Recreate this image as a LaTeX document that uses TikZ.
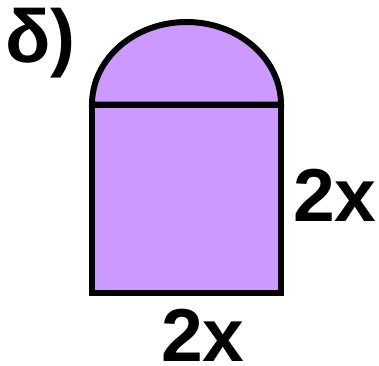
\documentclass[tikz,border=0pt]{standalone}
\usepackage{fontspec}
\setmainfont{Liberation Sans}
\definecolor{lav}{HTML}{CC99FF}
\begin{document}
\begin{tikzpicture}[x=1pt,y=1pt,
  shapeline/.style={draw=black,line width=6pt,fill=lav},
  lbl/.style={inner sep=0pt,anchor=base west,font=\fontsize{75}{75}\selectfont\bfseries}]
\useasboundingbox (0,0) rectangle (379,365);
\path[shapeline] (92,260.5) arc[start angle=180,end angle=0,x radius=94.5,y radius=82.5] -- cycle;
\path[shapeline] (92,72) rectangle (281,260.5);
\node[lbl] (delta) at (5,303) {δ)};
\node[lbl] (side) at (293,144) {2x};
\node[lbl] (base) at (161,3.5) {2x};
\end{tikzpicture}
\end{document}
